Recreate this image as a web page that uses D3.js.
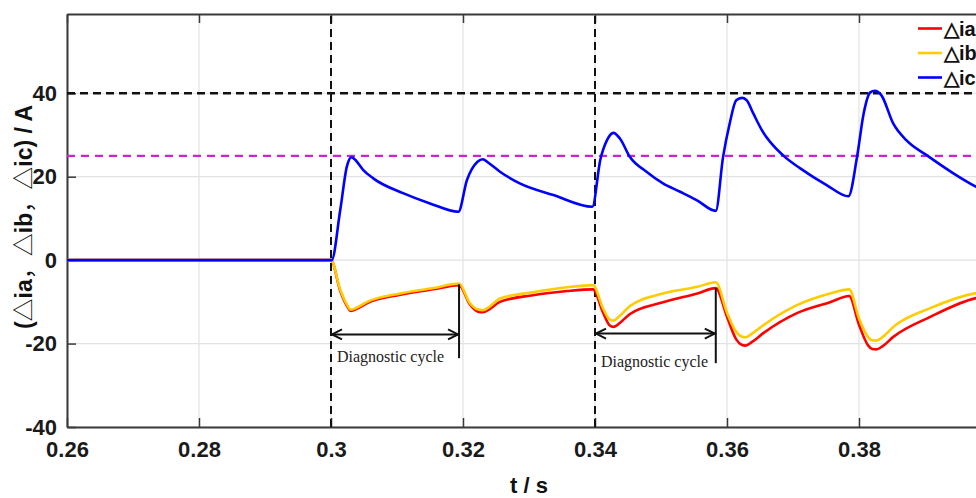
<!DOCTYPE html>
<html>
<head>
<meta charset="utf-8">
<script src="https://d3js.org/d3.v7.min.js"></script>
<style>
  body { margin: 0; background: #fff; }
  svg { display: block; font-family: "Liberation Sans", Arial, sans-serif; }
</style>
</head>
<body>
<script>
// time axis (s) for phase c current deviation
const icTime = [0.26, 0.3001, 0.3014, 0.3024, 0.3031, 0.3037, 0.3049, 0.3064, 0.3110, 0.3150, 0.3193,
  0.3206, 0.3222, 0.3230, 0.3238, 0.3256, 0.3286, 0.3337, 0.3396,
  0.3408, 0.3418, 0.3428, 0.3438, 0.3453, 0.3478, 0.3503, 0.3529, 0.3554, 0.3583,
  0.3594, 0.3604, 0.3614, 0.3623, 0.3630, 0.3640, 0.3653, 0.3685, 0.3711, 0.3751, 0.3784,
  0.3797, 0.3807, 0.3817, 0.3824, 0.3834, 0.3852, 0.3872, 0.3903, 0.3943, 0.3977, 0.4000];
const icVal = [0, 0, 12, 22.4, 24.7, 24.0, 21.6, 19.6, 16.0, 13.6, 11.6,
  19.2, 23.6, 24.2, 23.4, 21.2, 18.4, 15.6, 12.8,
  24.0, 28.7, 30.5, 29.1, 24.7, 21.2, 18.4, 16.4, 14.4, 11.8,
  24.7, 32.7, 38.3, 38.9, 38.3, 35.1, 31.1, 25.1, 22.0, 18.0, 15.3,
  24.7, 35.1, 40.2, 40.6, 39.5, 32.7, 28.7, 25.1, 20.8, 17.6, 15.8];

// time axis (s) for phase a / b current deviation
const abTime = [0.26, 0.300, 0.3014, 0.3025, 0.3030, 0.3040, 0.3055, 0.3105, 0.3155, 0.3194,
  0.3210, 0.3222, 0.3230, 0.3240, 0.3256, 0.3306, 0.3358, 0.3397,
  0.3412, 0.3422, 0.3428, 0.3438, 0.3453, 0.3503, 0.3555, 0.3583,
  0.3600, 0.3614, 0.3622, 0.3628, 0.3638, 0.3655, 0.3706, 0.3756, 0.3785,
  0.3800, 0.3814, 0.3820, 0.3826, 0.3836, 0.3852, 0.3908, 0.3977, 0.4000];
const iaVal = [0, 0, -7.4, -11.2, -12.2, -11.6, -10.3, -8.3, -7.0, -6.0,
  -10.5, -12.3, -12.5, -11.8, -10.0, -8.4, -7.4, -7.0,
  -12.5, -15.6, -16.0, -15.0, -12.9, -10.1, -8.0, -6.7,
  -13.6, -19.0, -20.3, -20.5, -19.6, -17.5, -12.7, -10.1, -8.6,
  -15.5, -20.5, -21.3, -21.4, -20.6, -18.4, -13.6, -9.1, -8.5];
const ibVal = [0, 0, -7.1, -10.9, -11.9, -11.3, -10.0, -8.0, -6.7, -5.6,
  -10.2, -11.8, -12.0, -11.2, -9.2, -7.7, -6.5, -6.0,
  -11.5, -14.2, -14.5, -13.3, -11.0, -8.0, -6.4, -5.3,
  -12.6, -17.2, -18.3, -18.5, -17.6, -15.6, -10.8, -8.0, -7.0,
  -14.0, -18.5, -19.2, -19.3, -18.4, -16.0, -11.5, -7.9, -7.4];

const xTicks = [0.26, 0.28, 0.30, 0.32, 0.34, 0.36, 0.38, 0.40];
const xTickLabels = ["0.26", "0.28", "0.3", "0.32", "0.34", "0.36", "0.38", ""];
const yTicks = [-40, -20, 0, 20, 40];

const seriesNames = ["\u25B3ia", "\u25B3ib", "\u25B3ic"];
const seriesColors = ["#ff0000", "#ffcc00", "#0000ff"];

const thresholdHigh = 40;   // black dashed
const thresholdLow = 25;    // magenta dashed
const faultTimes = [0.30, 0.34];
// diagnostic cycles: start, end, arrow level, bar top / bottom
const cycles = [
  {t0: 0.300, t1: 0.3194, yArrow: -17.8, yBottom: -23.5, yTop: -5.8},
  {t0: 0.340, t1: 0.3583, yArrow: -17.6, yBottom: -24.7, yTop: -6.7}
];

const W = 976, H = 498;
const margin = {left: 67, top: 14};
const plotW = 924, plotH = 413;

const svg = d3.select("body").append("svg")
  .attr("width", W).attr("height", H);

const x = d3.scaleLinear().domain([0.26, 0.40]).range([margin.left, margin.left + plotW]);
const y = d3.scaleLinear().domain([-40, 59]).range([margin.top + plotH, margin.top]);

svg.append("defs").append("clipPath").attr("id", "clip")
  .append("rect").attr("x", x(0.26)).attr("y", y(59)).attr("width", plotW).attr("height", plotH);

// grid
const grid = svg.append("g").attr("stroke", "#e2e2e2").attr("stroke-width", 1.2);
grid.selectAll("line.gx").data(xTicks).join("line")
  .attr("x1", d => x(d)).attr("x2", d => x(d)).attr("y1", y(-40)).attr("y2", y(59));
grid.selectAll("line.gy").data(yTicks).join("line")
  .attr("x1", x(0.26)).attr("x2", x(0.40)).attr("y1", d => y(d)).attr("y2", d => y(d));

// axes with inward ticks
const tickFmt = (d, i) => xTickLabels[i];
const axB = svg.append("g").attr("transform", `translate(0,${y(-40)})`)
  .call(d3.axisBottom(x).tickValues(xTicks).tickFormat(tickFmt).tickSizeInner(-9).tickSizeOuter(0).tickPadding(14));
const axT = svg.append("g").attr("transform", `translate(0,${y(59)})`)
  .call(d3.axisTop(x).tickValues(xTicks).tickFormat("").tickSizeInner(-9).tickSizeOuter(0));
const axL = svg.append("g").attr("transform", `translate(${x(0.26)},0)`)
  .call(d3.axisLeft(y).tickValues(yTicks).tickFormat(d => String(d)).tickSizeInner(-9).tickSizeOuter(0).tickPadding(10));
const axR = svg.append("g").attr("transform", `translate(${x(0.40)},0)`)
  .call(d3.axisRight(y).tickValues(yTicks).tickFormat("").tickSizeInner(-9).tickSizeOuter(0));

[axB, axT, axL, axR].forEach(a => {
  a.select(".domain").attr("stroke", "#3a3a3a").attr("stroke-width", 2);
  a.selectAll(".tick line").attr("stroke", "#3a3a3a").attr("stroke-width", 1.5);
  a.selectAll(".tick text").attr("fill", "#1a1a1a")
    .style("font-size", "22px").style("font-weight", "bold")
    .style("font-family", "'Liberation Sans', Arial, sans-serif");
});

const plot = svg.append("g").attr("clip-path", "url(#clip)");

// threshold lines
plot.append("line").attr("x1", x(0.26)).attr("x2", x(0.40))
  .attr("y1", y(thresholdHigh)).attr("y2", y(thresholdHigh))
  .attr("stroke", "#111").attr("stroke-width", 2.5).attr("stroke-dasharray", "8,5");
plot.append("line").attr("x1", x(0.26)).attr("x2", x(0.40))
  .attr("y1", y(thresholdLow)).attr("y2", y(thresholdLow))
  .attr("stroke", "#d61ed6").attr("stroke-width", 2.2).attr("stroke-dasharray", "8,6");
plot.selectAll("line.fault").data(faultTimes).join("line")
  .attr("x1", d => x(d)).attr("x2", d => x(d)).attr("y1", y(-40)).attr("y2", y(59))
  .attr("stroke", "#111").attr("stroke-width", 2).attr("stroke-dasharray", "8,5");

// curves
const line = d3.line().x(d => x(d[0])).y(d => y(d[1])).curve(d3.curveMonotoneX);
const ser = [
  {vals: d3.zip(abTime, iaVal), color: seriesColors[0]},
  {vals: d3.zip(abTime, ibVal), color: seriesColors[1]},
  {vals: d3.zip(icTime, icVal), color: seriesColors[2]}
];
plot.selectAll("path.s").data(ser).join("path")
  .attr("d", d => line(d.vals)).attr("fill", "none")
  .attr("stroke", d => d.color).attr("stroke-width", 2.6)
  .attr("stroke-linejoin", "round");

// diagnostic cycle annotations
const ann = svg.append("g").attr("stroke", "#111").attr("stroke-width", 2).attr("fill", "none");
cycles.forEach(c => {
  const xa = x(c.t0), xb = x(c.t1), ya = y(c.yArrow);
  ann.append("line").attr("x1", xa).attr("x2", xb).attr("y1", ya).attr("y2", ya);
  ann.append("path").attr("d", `M${xa + 11},${ya - 5}L${xa + 1},${ya}L${xa + 11},${ya + 5}`);
  ann.append("path").attr("d", `M${xb - 11},${ya - 5}L${xb - 1},${ya}L${xb - 11},${ya + 5}`);
  ann.append("line").attr("x1", xb).attr("x2", xb).attr("y1", y(c.yTop)).attr("y2", y(c.yBottom));
  svg.append("text").attr("x", xa + 6).attr("y", y(c.yBottom) + 4)
    .style("font-family", "'Liberation Serif', 'Times New Roman', serif")
    .style("font-size", "16px").attr("fill", "#222")
    .text("Diagnostic cycle");
});

// legend
const leg = svg.append("g");
seriesNames.forEach((n, i) => {
  const ly = 28.5 + i * 24.5;
  leg.append("line").attr("x1", 918).attr("x2", 942).attr("y1", ly).attr("y2", ly)
    .attr("stroke", seriesColors[i]).attr("stroke-width", 2.6);
  leg.append("text").attr("x", 944).attr("y", ly + 7)
    .style("font-size", "20px").style("font-weight", "bold").attr("fill", "#111")
    .text(n);
});

// axis labels
svg.append("text").attr("x", x(0.33)).attr("y", 493).attr("text-anchor", "middle")
  .style("font-size", "22px").style("font-weight", "bold").attr("fill", "#111")
  .text("t / s");

// y label: full-width triangle and comma glyphs
const yLabelParts = [["(", 0], ["\u25B3", 1], ["ia", 0], ["\uFF0C", 1], ["\u25B3", 1], ["ib", 0],
  ["\uFF0C", 1], ["\u25B3", 1], ["ic", 0], [") / A", 0]];
const yl = svg.append("text").attr("transform", "translate(32,217) rotate(-90)")
  .attr("text-anchor", "middle")
  .style("font-size", "23px").style("font-weight", "bold").attr("fill", "#111");
yLabelParts.forEach(p => {
  yl.append("tspan")
    .style("font-family", p[1] ? "'Noto Sans CJK SC', sans-serif" : "'Liberation Sans', Arial, sans-serif")
    .style("font-weight", p[1] ? "normal" : "bold")
    .text(p[0]);
});
</script>
</body>
</html>
